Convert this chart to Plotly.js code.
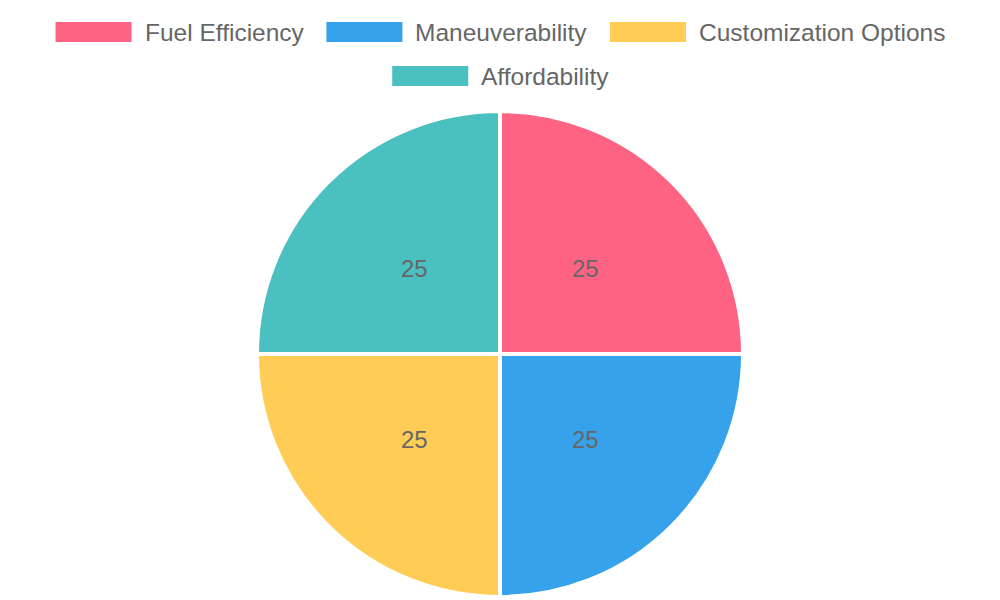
<!DOCTYPE html>
<html>
<head>
<meta charset="utf-8">
<script src="https://cdn.plot.ly/plotly-3.0.1.min.js"></script>
<style>html,body{margin:0;padding:0;background:#fff;}#chart{width:1000px;height:600px;}</style>
</head>
<body>
<div id="chart"></div>
<script>
const labels = ["Fuel Efficiency", "Maneuverability", "Customization Options", "Affordability"];
const values = [25, 25, 25, 25];
const colors = ["#FF6384", "#36A2EB", "#FFCD56", "#4BC0C0"];

const W = 1000, H = 600;
const FONT = '"Liberation Sans", Arial, Helvetica, sans-serif';
const fontSize = 24.5;

// Legend (drawn as shapes + text, Chart.js style wide boxes)
const cv = document.createElement('canvas');
const ctx = cv.getContext('2d');
ctx.font = fontSize + 'px "Liberation Sans"';
const boxW = 76, boxH = 20, textGap = 14, itemGap = 22, annPad = 3;
const items = labels.map((l, i) => ({label: l, color: colors[i], w: boxW + textGap + ctx.measureText(l).width}));
const rows = [];
let cur = [], curW = 0;
items.forEach(it => {
  const add = (cur.length ? itemGap : 0) + it.w;
  if (cur.length && curW + add > W - 40) { rows.push({items: cur, w: curW}); cur = []; curW = 0; }
  curW += (cur.length ? itemGap : 0) + it.w;
  cur.push(it);
});
if (cur.length) rows.push({items: cur, w: curW});

const shapes = [], annotations = [];
const rowY0 = 32, rowStep = 44, cx = 501;
rows.forEach((r, ri) => {
  let x = cx - r.w / 2;
  const yc = rowY0 + ri * rowStep;
  r.items.forEach(it => {
    shapes.push({type: 'rect', xref: 'paper', yref: 'paper',
      x0: x / W, x1: (x + boxW) / W, y0: 1 - (yc + boxH / 2) / H, y1: 1 - (yc - boxH / 2) / H,
      fillcolor: it.color, line: {width: 0}});
    annotations.push({xref: 'paper', yref: 'paper', x: (x + boxW + textGap - annPad) / W, y: 1 - yc / H,
      xanchor: 'left', yanchor: 'middle', text: it.label, showarrow: false,
      font: {family: FONT, size: fontSize, color: '#666666'}});
    x += it.w + itemGap;
  });
});

// Pie geometry (domain)
const dom = {x: [0.257, 0.743], y: [1 - 597 / H, 1 - 111 / H]};
const pcx = (dom.x[0] + dom.x[1]) / 2 * W;
const pcy = (1 - (dom.y[0] + dom.y[1]) / 2) * H;
const R = Math.min((dom.x[1] - dom.x[0]) * W, (dom.y[1] - dom.y[0]) * H) / 2;

// Value labels at half radius of each slice's mid-angle (clockwise from top)
const total = values.reduce((a, b) => a + b, 0);
let cum = 0;
values.forEach(v => {
  const mid = (cum + v / 2) / total * 2 * Math.PI;
  cum += v;
  const px = pcx + 0.5 * R * Math.sin(mid);
  const py = pcy - 0.5 * R * Math.cos(mid);
  annotations.push({xref: 'paper', yref: 'paper', x: px / W, y: 1 - py / H,
    xanchor: 'center', yanchor: 'middle', text: String(v), showarrow: false,
    font: {family: FONT, size: 24, color: '#666666'}});
});

const data = [{
  type: 'pie',
  labels: labels,
  values: values,
  sort: false,
  direction: 'clockwise',
  rotation: 0,
  marker: {colors: colors, line: {color: '#ffffff', width: 4}},
  textinfo: 'none',
  hoverinfo: 'label+value',
  domain: dom,
  showlegend: false
}];

const layout = {
  width: W, height: H,
  margin: {l: 0, r: 0, t: 0, b: 0},
  paper_bgcolor: '#ffffff',
  showlegend: false,
  shapes: shapes,
  annotations: annotations
};

Plotly.newPlot('chart', data, layout, {displayModeBar: false, staticPlot: true});
</script>
</body>
</html>
